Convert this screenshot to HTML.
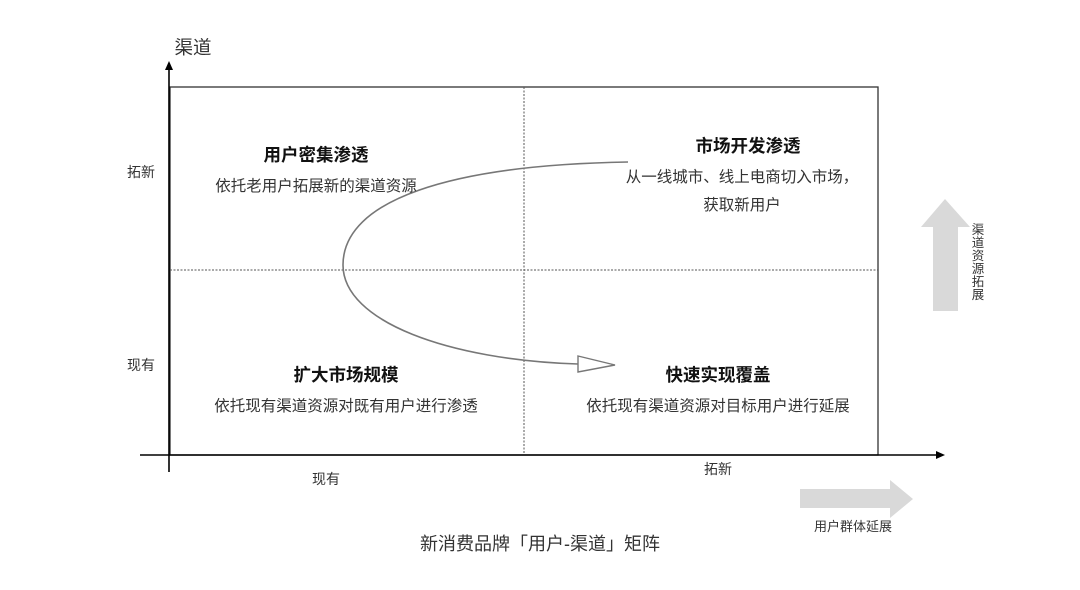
<!DOCTYPE html>
<html><head><meta charset="utf-8"><style>
html,body{margin:0;padding:0;background:#fff;}
svg text{font-family:"Liberation Sans","Noto Sans CJK SC",sans-serif;}
</style></head><body>
<svg width="1080" height="585" viewBox="0 0 1080 585" xmlns="http://www.w3.org/2000/svg">
<rect width="1080" height="585" fill="#fff"/>
<rect x="170" y="87" width="708" height="368" fill="none" stroke="#333" stroke-width="1.3"/>
<line x1="524" y1="87" x2="524" y2="455" stroke="#555" stroke-width="1" stroke-dasharray="2,1.5"/>
<line x1="170" y1="270" x2="878" y2="270" stroke="#555" stroke-width="1" stroke-dasharray="2,1.5"/>
<line x1="169" y1="68" x2="169" y2="472" stroke="#000" stroke-width="1.6"/>
<polygon points="169,61 165,70 173,70" fill="#000"/>
<line x1="140" y1="455" x2="937" y2="455" stroke="#000" stroke-width="1.6"/>
<polygon points="945,455 936,451 936,459" fill="#000"/>
<path d="M628,162 C450,165 343,200 343,265 C343,322 450,360 578,364" fill="none" stroke="#777" stroke-width="1.6"/>
<polygon points="578,356 615,365 578,372" fill="#fff" stroke="#777" stroke-width="1.4"/>
<polygon points="933,311 958,311 958,227 970,227 945,199 921,227 933,227" fill="#d9d9d9"/>
<polygon points="800,489 890,489 890,480 913,499 890,518 890,508 800,508" fill="#d9d9d9"/>
<text x="193" y="54" font-size="18.5" fill="#333" text-anchor="middle">渠道</text>
<text x="141" y="177" font-size="14" fill="#333" text-anchor="middle">拓新</text>
<text x="141" y="370" font-size="14" fill="#333" text-anchor="middle">现有</text>
<text x="326" y="484" font-size="14" fill="#333" text-anchor="middle">现有</text>
<text x="718" y="474" font-size="14" fill="#333" text-anchor="middle">拓新</text>
<text x="316" y="161" font-size="17.5" font-weight="bold" fill="#111" text-anchor="middle">用户密集渗透</text>
<text x="316" y="191" font-size="15.5" fill="#333" text-anchor="middle">依托老用户拓展新的渠道资源</text>
<text x="748" y="152" font-size="17.5" font-weight="bold" fill="#111" text-anchor="middle">市场开发渗透</text>
<text x="742" y="182" font-size="15.5" fill="#333" text-anchor="middle">从一线城市、线上电商切入市场，</text>
<text x="742" y="210" font-size="15.5" fill="#333" text-anchor="middle">获取新用户</text>
<text x="346" y="381" font-size="17.5" font-weight="bold" fill="#111" text-anchor="middle">扩大市场规模</text>
<text x="346" y="411" font-size="15.5" fill="#333" text-anchor="middle">依托现有渠道资源对既有用户进行渗透</text>
<text x="718" y="381" font-size="17.5" font-weight="bold" fill="#111" text-anchor="middle">快速实现覆盖</text>
<text x="718" y="411" font-size="15.5" fill="#333" text-anchor="middle">依托现有渠道资源对目标用户进行延展</text>
<g font-size="12.5" fill="#333" text-anchor="middle">
<text x="978" y="234">渠</text><text x="978" y="247">道</text><text x="978" y="260">资</text><text x="978" y="273">源</text><text x="978" y="286">拓</text><text x="978" y="299">展</text>
</g>
<text x="853" y="531" font-size="13" fill="#333" text-anchor="middle">用户群体延展</text>
<text x="540" y="550" font-size="18" fill="#333" text-anchor="middle">新消费品牌「用户-渠道」矩阵</text>
</svg>
</body></html>
